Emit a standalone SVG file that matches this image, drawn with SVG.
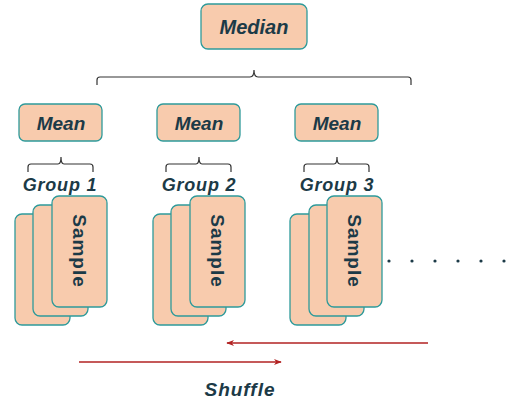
<svg xmlns="http://www.w3.org/2000/svg" width="506" height="402" viewBox="0 0 506 402">
<defs>
<style>
.box{fill:#f8cbad;stroke:#2e9a9a;stroke-width:1.3}
.t{font-family:"Liberation Sans",sans-serif;font-weight:bold;font-style:italic;fill:#1c3a47;text-anchor:middle}
.g{font-size:18px;letter-spacing:0.8px}
.s{font-size:19px;letter-spacing:1px;font-style:normal}
.br{fill:none;stroke:#333;stroke-width:1.2}
.ar{stroke:#b22222;stroke-width:1.3;fill:none}
.dot{fill:#1c3a47}
</style>
<marker id="ah" viewBox="0 0 10 10" refX="9" refY="5" markerWidth="8" markerHeight="8" orient="auto-start-reverse" markerUnits="userSpaceOnUse">
<path d="M0,1 L10,5 L0,9 L3,5 Z" fill="#b22222"/>
</marker>
</defs>
<rect width="506" height="402" fill="#fff"/>
<g id="median"><rect class="box" x="201" y="4" width="106" height="45" rx="7"/><text class="t" x="254" y="34" font-size="20">Median</text></g>
<g id="mean1"><rect class="box" x="19" y="104" width="83" height="37" rx="6"/><text class="t" x="61" y="130" font-size="19">Mean</text></g>
<g id="mean2"><rect class="box" x="157" y="104" width="83" height="37" rx="6"/><text class="t" x="199" y="130" font-size="19">Mean</text></g>
<g id="mean3"><rect class="box" x="295" y="104" width="83" height="37" rx="6"/><text class="t" x="337" y="130" font-size="19">Mean</text></g>
<g id="group1">
<text class="t g" x="60" y="191">Group 1</text>
<rect class="box" x="15" y="214" width="55" height="111" rx="7"/>
<rect class="box" x="33" y="205" width="55" height="111" rx="7"/>
<rect class="box" x="52" y="196" width="55" height="111" rx="7"/>
<text class="t s" transform="translate(73,251) rotate(90)">Sample</text>
</g>
<g id="group2">
<text class="t g" x="199" y="191">Group 2</text>
<rect class="box" x="153" y="214" width="55" height="111" rx="7"/>
<rect class="box" x="171" y="205" width="55" height="111" rx="7"/>
<rect class="box" x="190" y="196" width="55" height="111" rx="7"/>
<text class="t s" transform="translate(211,251) rotate(90)">Sample</text>
</g>
<g id="group3">
<text class="t g" x="337" y="191">Group 3</text>
<rect class="box" x="290" y="214" width="56" height="111" rx="7"/>
<rect class="box" x="309" y="205" width="55" height="111" rx="7"/>
<rect class="box" x="327" y="196" width="55" height="111" rx="7"/>
<text class="t s" transform="translate(348,251) rotate(90)">Sample</text>
</g>
<g id="dots">
<circle class="dot" cx="389" cy="261" r="1.6"/><circle class="dot" cx="412" cy="261" r="1.6"/><circle class="dot" cx="435" cy="261" r="1.6"/><circle class="dot" cx="458" cy="261" r="1.6"/><circle class="dot" cx="481" cy="261" r="1.6"/><circle class="dot" cx="504" cy="261" r="1.6"/>
</g>
<g id="connectors">
<path class="br" d="M97,85 V80 Q97,77 100,77 H250 Q254,77 254,70 Q254,77 258,77 H408 Q411,77 411,80 V85"/>
<path class="br" d="M28,172 V167 Q28,164 31,164 H58 Q61,164 61,157 Q61,164 64,164 H90 Q93,164 93,167 V172"/>
<path class="br" d="M166,172 V167 Q166,164 169,164 H196 Q199,164 199,157 Q199,164 202,164 H228 Q231,164 231,167 V172"/>
<path class="br" d="M304,172 V167 Q304,164 307,164 H334 Q337,164 337,157 Q337,164 340,164 H366 Q369,164 369,167 V172"/>
<line class="ar" x1="428" y1="343" x2="227" y2="343" marker-end="url(#ah)"/>
<line class="ar" x1="79" y1="362" x2="281" y2="362" marker-end="url(#ah)"/>
</g>
<text id="shuffle" class="t" x="240" y="396" font-size="19" letter-spacing="1">Shuffle</text>
</svg>
